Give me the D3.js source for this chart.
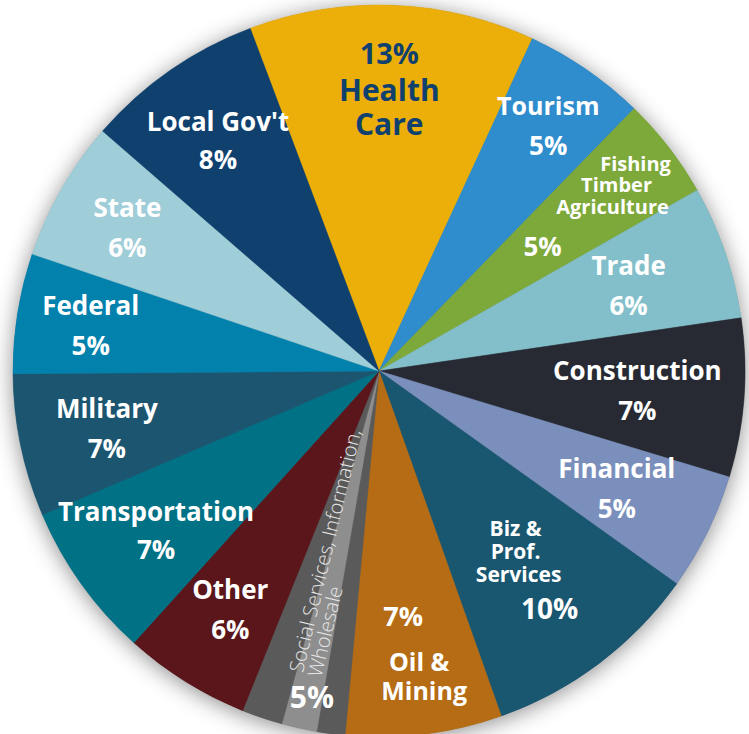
<!DOCTYPE html>
<html>
<head>
  <script src="https://d3js.org/d3.v7.min.js"></script>
  <style>
    body { margin: 0; background: #fff; }
    svg { display: block; }
    .lbl { font-family: 'Open Sans', Lato, sans-serif; font-weight: 700; fill: #fff; text-anchor: middle; dominant-baseline: central; }
    .thin { font-family: 'Open Sans', Lato, sans-serif; font-weight: 300; fill: #e6e6e6; }
  </style>
</head>
<body>
  <svg id="chart" width="749" height="734"></svg>
  <script>
    // Slices, clockwise starting from Health Care
    const categories = ["Health Care", "Tourism", "Fishing Timber Agriculture", "Trade", "Construction",
      "Financial", "Biz & Prof. Services", "Oil & Mining", "Wholesale", "Information", "Social Services",
      "Other", "Transportation", "Military", "Federal", "State", "Local Gov't"];
    const values = [12.6, 5.4, 4.5, 5.9, 7.0, 5.2, 9.7, 6.9, 1.25, 1.55, 1.8, 5.6, 6.9, 6.3, 5.3, 6.2, 7.9];
    const colors = ["#ecaf0a", "#2f8dcd", "#7da83a", "#82bfca", "#272a33", "#7a8fbb", "#195670", "#b56c14",
      "#5a5a5a", "#8e8e8e", "#5a5a5a", "#5a161a", "#017186", "#1b5570", "#0381ad", "#9fcdd8", "#0f406e"];
    // percentage shown on each label (rounded, as printed)
    const pctText = ["13%", "5%", "5%", "6%", "7%", "5%", "10%", "7%", null, null, null, "6%", "7%", "7%", "5%", "6%", "8%"];

    const svg = d3.select("#chart");
    const cx = 379, cy = 371, R = 366;

    const defs = svg.append("defs");
    const f = defs.append("filter").attr("id", "shadow")
      .attr("x", "-20%").attr("y", "-20%").attr("width", "140%").attr("height", "140%");
    f.append("feDropShadow").attr("dx", 0).attr("dy", 3)
      .attr("stdDeviation", 11).attr("flood-color", "#000").attr("flood-opacity", 0.45);

    const pie = d3.pie().sort(null).value(d => d)
      .startAngle(-20.6 * Math.PI / 180)
      .endAngle(-20.6 * Math.PI / 180 + 2 * Math.PI);
    const arcs = pie(values);
    const arc = d3.arc().innerRadius(0).outerRadius(R);

    const g = svg.append("g").attr("transform", `translate(${cx},${cy})`);

    g.append("circle").attr("r", R).attr("fill", "#777").attr("filter", "url(#shadow)");

    g.selectAll("path.slice")
      .data(arcs)
      .enter()
      .append("path")
      .attr("class", "slice")
      .attr("d", arc)
      .attr("fill", (d, i) => colors[i])
      .attr("stroke", (d, i) => colors[i])
      .attr("stroke-width", 0.5);

    // label layout: radius of block anchor and line offsets (relative to anchor)
    const layout = {
      0:  { r: 283, lines: [["pct", 0, -36, 29, "#0f406e"], ["Health", 0, 1, 30, "#0f406e"], ["Care", 0, 35, 30, "#0f406e"]] },
      1:  { r: 299, lines: [["Tourism", 0, -20, 25], ["pct", 0, 20, 26]] },
      2:  { r: 304, lines: [["Fishing", 16, -22, 20], ["Timber", -3, -1, 20], ["Agriculture", -7, 21, 20], ["pct", -77, 61, 26]] },
      3:  { r: 264, lines: [["Trade", 0, -20, 26], ["pct", 0, 20, 26]] },
      4:  { r: 259, lines: [["Construction", 0, -20, 26], ["pct", 0, 20, 26]] },
      5:  { r: 265, lines: [["Financial", 0, -20, 26], ["pct", 0, 20, 26]] },
      6:  { r: 247, lines: [["Biz &", -12, -40, 21], ["Prof.", -12, -17, 21], ["Services", -9, 6, 21], ["pct", 22, 40, 28]] },
      7:  { r: 284, lines: [["pct", -11, -37, 27], ["Oil &", 5, 8, 25], ["Mining", 10, 37, 25]] },
      11: { r: 281, lines: [["Other", 0, -20, 26], ["pct", 0, 20, 26]] },
      12: { r: 274, lines: [["Transportation", 0, -19, 26], ["pct", 0, 19, 26]] },
      13: { r: 278, lines: [["Military", 0, -20, 26], ["pct", 0, 20, 26]] },
      14: { r: 292, lines: [["Federal", 0, -20, 26], ["pct", 0, 20, 26]] },
      15: { r: 290, lines: [["State", 0, -20, 26], ["pct", 0, 20, 26]] },
      16: { r: 282, lines: [["Local Gov't", 0, -19, 26], ["pct", 0, 19, 26]] }
    };

    Object.keys(layout).forEach(k => {
      const i = +k, L = layout[k];
      const a = arcs[i];
      const pos = d3.arc().innerRadius(L.r).outerRadius(L.r).centroid(a);
      L.lines.forEach(([t, dx, dy, size, col]) => {
        g.append("text")
          .attr("class", "lbl")
          .attr("x", pos[0] + dx)
          .attr("y", pos[1] + dy)
          .attr("font-size", size)
          .style("fill", col || "#fff")
          .text(t === "pct" ? pctText[i] : t);
      });
    });

    // the three narrow grey slices share one rotated label
    const grey = { startAngle: arcs[8].startAngle, endAngle: arcs[10].endAngle };
    const mid = (grey.startAngle + grey.endAngle) / 2;
    const gr = 312;
    const gx = gr * Math.sin(mid), gy = -gr * Math.cos(mid);
    const rot = mid * 180 / Math.PI - 270;
    const tg = g.append("g").attr("transform", `translate(${gx},${gy}) rotate(${rot})`);
    tg.append("text").attr("class", "thin").attr("y", -3).attr("font-size", 20)
      .text("Social Services, Information,");
    tg.append("text").attr("class", "thin").attr("y", 16).attr("font-size", 20)
      .text("Wholesale");
    const p5 = d3.arc().innerRadius(332).outerRadius(332).centroid(grey);
    g.append("text").attr("class", "lbl")
      .attr("x", p5[0] + 11).attr("y", p5[1] + 3)
      .attr("font-size", 30)
      .text("5%");
  </script>
</body>
</html>
